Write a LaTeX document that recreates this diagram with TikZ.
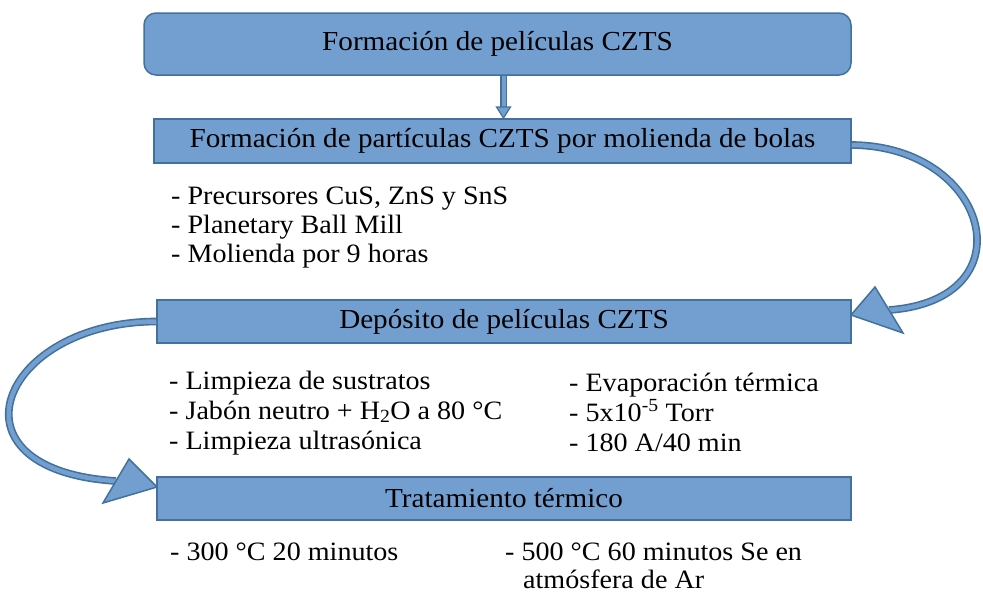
\documentclass[tikz,border=0pt]{standalone}
\usepackage{fontspec}
\setmainfont[FakeStretch=1.06]{Liberation Serif}
\definecolor{bfill}{RGB}{114,159,207}
\definecolor{bline}{RGB}{65,113,156}
\tikzset{
  stepbox/.style={draw=bline, fill=bfill, line width=1.5pt, inner sep=0pt, font=\fontsize{27.5}{30}\selectfont},
  conn/.style={draw=bline, line width=1.6pt, double=bfill, double distance=4.5pt},
  thinconn/.style={draw=bline, line width=1.2pt, double=bfill, double distance=4pt},
  headtri/.style={draw=bline, fill=bfill, line width=1.5pt, line join=miter},
  txt/.style={anchor=base west, inner sep=0pt, font=\fontsize{26.5}{29}\selectfont}
}
\begin{document}
\begin{tikzpicture}[x=1pt,y=-1pt]
\useasboundingbox (0,0) rectangle (983,592);
% boxes
\node[stepbox, rounded corners=12pt, minimum width=707pt, minimum height=62pt] (b1) at (497.5,44) {Formación de películas CZTS};
\node[stepbox, minimum width=697pt, minimum height=44pt] (b2) at (502.5,141) {Formación de partículas CZTS por molienda de bolas};
\node[stepbox, minimum width=694pt, minimum height=43pt] (b3) at (504,321.5) {Depósito de películas CZTS};
\node[stepbox, minimum width=694pt, minimum height=43pt] (b4) at (504,498.5) {Tratamiento térmico};
% down arrow
\coordinate (dh) at (503.5,107);
\draw[thinconn] (b1.south -| dh) -- (dh);
\coordinate (dh1) at (496.5,107);
\coordinate (dh2) at (510.5,107);
\coordinate (dht) at (503.5,118);
\draw[draw=bline, fill=bfill, line width=1.2pt] (dh1) -- (dht) -- (dh2) -- cycle;
% right curved arrow
\coordinate (rh) at (889,310);
\coordinate (rh1) at (875,287);
\coordinate (rh2) at (903,333);
\coordinate (rht) at (851,315);
\draw[conn] ([yshift=-4pt]b2.east) .. controls (990,146) and (1030,300) .. (rh);
\draw[headtri] (rh1) -- (rht) -- (rh2) -- cycle;
% left curved arrow
\coordinate (lh) at (116,481);
\coordinate (lh1) at (129,459);
\coordinate (lh2) at (103,503);
\coordinate (lht) at (157,487);
\draw[conn] (b3.west) .. controls (0,322) and (-60,470) .. (lh);
\draw[headtri] (lh1) -- (lht) -- (lh2) -- cycle;
% texts
\node[txt] (t1) at (171,204) {- Precursores CuS, ZnS y SnS};
\node[txt] (t2) at (171,233) {- Planetary Ball Mill};
\node[txt] (t3) at (171,262) {- Molienda por 9 horas};
\node[txt] (t4) at (169,389) {- Limpieza de sustratos};
\node[txt] (t5) at (169,419) {- Jabón neutro + H\textsubscript{2}O a 80 °C};
\node[txt] (t6) at (169,449) {- Limpieza ultrasónica};
\node[txt] (t7) at (569,391) {- Evaporación térmica};
\node[txt] (t8) at (569,421) {- 5x10\textsuperscript{-5} Torr};
\node[txt] (t9) at (569,451) {- 180 A/40 min};
\node[txt] (t10) at (170,560) {- 300 °C 20 minutos};
\node[txt] (t11) at (505,560) {- 500 °C 60 minutos Se en};
\node[txt] (t12) at (523,588) {atmósfera de Ar};
\end{tikzpicture}
\end{document}
